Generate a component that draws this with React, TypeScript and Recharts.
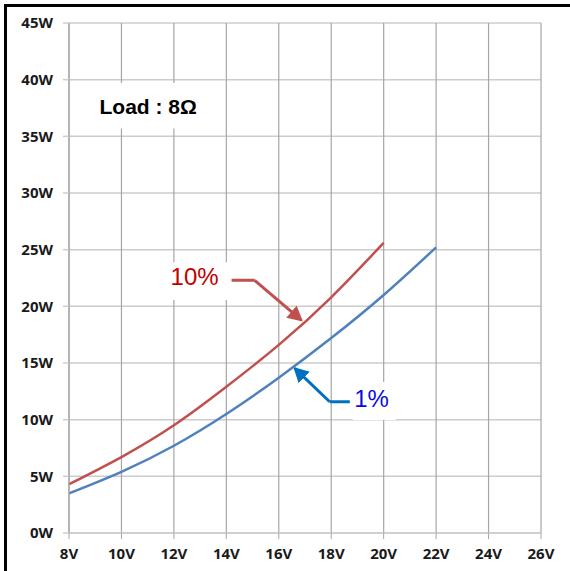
import {
  LineChart,
  Line,
  XAxis,
  YAxis,
  CartesianGrid,
  ReferenceArea,
  ReferenceLine,
  ReferenceDot,
} from "recharts";

// Output power vs supply voltage, 8 ohm load
const voltages = [8, 10, 12, 14, 16, 18, 20, 22];
const thd10 = [4.3, 6.7, 9.5, 12.9, 16.6, 20.8, 25.6, null];
const thd1 = [3.5, 5.4, 7.7, 10.5, 13.7, 17.2, 21.0, 25.2];

const xTicks = [8, 10, 12, 14, 16, 18, 20, 22, 24, 26];
const yTicks = [0, 5, 10, 15, 20, 25, 30, 35, 40, 45];

const RED = "#c0504d";
const BLUE = "#4f81bd";

const chartData = voltages.map((v, i) => ({
  v,
  thd10: thd10[i],
  thd1: thd1[i],
}));

const tickStyle = {
  fontFamily: "'Open Sans', sans-serif",
  fontWeight: 700,
  fontSize: 15,
  fill: "#1a1a1a",
};

export default function App() {
  return (
    <div
      style={{
        position: "absolute",
        left: 0,
        top: 0,
        width: 570,
        height: 571,
        background: "#fff",
        overflow: "hidden",
      }}
    >
      {/* frame of the original picture, cut at right and bottom */}
      <div
        style={{
          position: "absolute",
          left: 4,
          top: 4,
          width: 600,
          height: 600,
          borderTop: "3px solid #000",
          borderLeft: "3px solid #000",
        }}
      />
      <svg width={0} height={0} style={{ position: "absolute" }}>
        <defs>
          <marker
            id="headRed"
            markerUnits="userSpaceOnUse"
            markerWidth={15}
            markerHeight={16}
            refX={13}
            refY={8}
            orient="auto"
          >
            <path d="M0,0 L15,8 L0,16 z" fill={RED} />
          </marker>
          <marker
            id="headBlue"
            markerUnits="userSpaceOnUse"
            markerWidth={15}
            markerHeight={16}
            refX={13}
            refY={8}
            orient="auto"
          >
            <path d="M0,0 L15,8 L0,16 z" fill="#0070c0" />
          </marker>
        </defs>
      </svg>
      <LineChart
        width={570}
        height={571}
        data={chartData}
        margin={{ top: 23, right: 29, bottom: 0, left: 0 }}
        style={{ position: "absolute", left: 0, top: 0 }}
      >
        <CartesianGrid vertical={false} stroke="#cccccc" strokeWidth={1.5} />
        <CartesianGrid horizontal={false} stroke="#a6a6a6" strokeWidth={1.2} />
        <XAxis
          dataKey="v"
          type="number"
          domain={[8, 26]}
          ticks={xTicks}
          tickFormatter={(t) => `${t}V`}
          height={38}
          tickSize={6}
          tickMargin={9}
          axisLine={{ stroke: "#cccccc", strokeWidth: 1.5 }}
          tickLine={{ stroke: "#a6a6a6" }}
          tick={tickStyle}
          interval={0}
        />
        <YAxis
          type="number"
          domain={[0, 45]}
          ticks={yTicks}
          tickFormatter={(t) => `${t}W`}
          width={69}
          tickSize={6}
          tickMargin={10}
          axisLine={{ stroke: "#a6a6a6", strokeWidth: 1.2 }}
          tickLine={{ stroke: "#cccccc", strokeWidth: 1.5 }}
          tick={tickStyle}
          interval={0}
        />

        {/* white backgrounds behind the annotations */}
        <ReferenceArea x1={8.98} x2={13.06} y1={35.7} y2={39.7} fill="#fff" fillOpacity={1} stroke="none" />
        <ReferenceArea x1={11.77} x2={14.2} y1={20.55} y2={23.9} fill="#fff" fillOpacity={1} stroke="none" />
        <ReferenceArea x1={18.82} x2={20.46} y1={9.96} y2={13.32} fill="#fff" fillOpacity={1} stroke="none" />

        <ReferenceDot
          x={11.02}
          y={37.6}
          r={1}
          fill="none"
          stroke="none"
          label={{
            value: "Load : 8Ω",
            position: "center",
            fill: "#000",
            fontSize: 21,
            fontWeight: 700,
            fontFamily: "'Liberation Sans', Arial, sans-serif",
          }}
        />
        <ReferenceDot
          x={12.79}
          y={22.66}
          r={1}
          fill="none"
          stroke="none"
          label={{
            value: "10%",
            position: "center",
            fill: "#c00000",
            fontSize: 24,
            fontFamily: "'Liberation Sans', Arial, sans-serif",
          }}
        />
        <ReferenceDot
          x={19.54}
          y={11.9}
          r={1}
          fill="none"
          stroke="none"
          label={{
            value: "1%",
            position: "center",
            fill: "#0a0ae0",
            fontSize: 24,
            fontFamily: "'Liberation Sans', Arial, sans-serif",
          }}
        />

        {/* arrows */}
        <ReferenceLine
          segment={[{ x: 14.2, y: 22.3 }, { x: 15.08, y: 22.3 }]}
          stroke={RED}
          strokeWidth={3}
        />
        <ReferenceLine
          segment={[{ x: 15.08, y: 22.3 }, { x: 16.86, y: 18.78 }]}
          stroke={RED}
          strokeWidth={3}
          markerEnd="url(#headRed)"
        />
        <ReferenceLine
          segment={[{ x: 18.71, y: 11.58 }, { x: 17.94, y: 11.58 }]}
          stroke="#0070c0"
          strokeWidth={3}
        />
        <ReferenceLine
          segment={[{ x: 17.94, y: 11.58 }, { x: 16.61, y: 14.52 }]}
          stroke="#0070c0"
          strokeWidth={3}
          markerEnd="url(#headBlue)"
        />

        <Line
          type="natural"
          dataKey="thd10"
          stroke={RED}
          strokeWidth={2.5}
          dot={false}
          isAnimationActive={false}
        />
        <Line
          type="natural"
          dataKey="thd1"
          stroke={BLUE}
          strokeWidth={2.5}
          dot={false}
          isAnimationActive={false}
        />
      </LineChart>
    </div>
  );
}
